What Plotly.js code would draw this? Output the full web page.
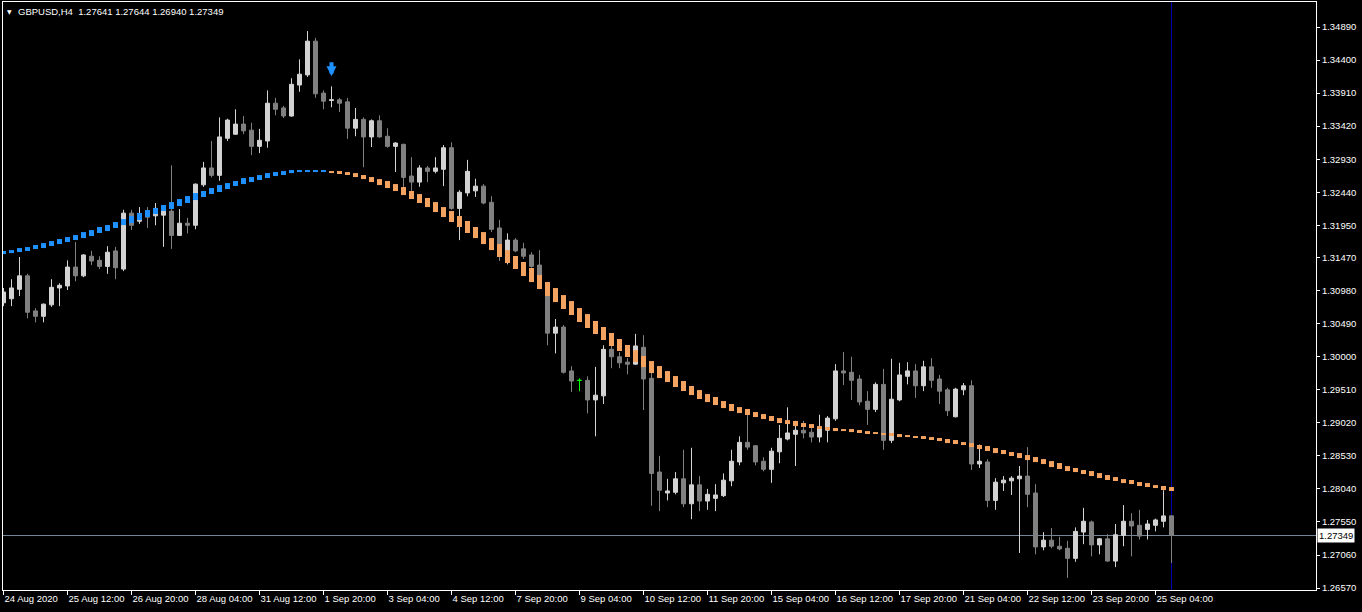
<!DOCTYPE html>
<html><head><meta charset="utf-8">
<script src="https://cdn.plot.ly/plotly-3.0.1.min.js"></script>
<style>html,body{margin:0;padding:0;background:#000;}#chart{width:1362px;height:612px;}</style>
</head><body><div id="chart"></div>
<script>
const symbol = 'GBPUSD';
const timeframe = 'H4';

const openP = [1.3080,1.3086,1.3100,1.3120,1.3068,1.3060,1.3077,1.3102,1.3105,1.3133,
1.3120,1.3149,1.3143,1.3134,1.3157,1.3130,1.3213,1.3201,1.3216,1.3209,
1.3210,1.3216,1.3180,1.3198,1.3195,1.3255,1.3280,1.3269,1.3324,1.3330,
1.3345,1.3336,1.3312,1.3320,1.3376,1.3369,1.3357,1.3403,1.3418,1.3468,
1.3391,1.3380,1.3381,1.3378,1.3339,1.3352,1.3326,1.3350,1.3327,1.3312,
1.3315,1.3268,1.3259,1.3280,1.3275,1.3278,1.3310,1.3220,1.3243,1.3246,
1.3253,1.3229,1.3191,1.3151,1.3173,1.3160,1.3151,1.3136,1.3108,1.3035,
1.3044,1.2979,1.2965,1.2965,1.2936,1.2942,1.3011,1.3000,1.2992,1.2989,
1.3014,1.2968,1.2829,1.2798,1.2799,1.2819,1.2782,1.2810,1.2786,1.2790,
1.2794,1.2816,1.2844,1.2873,1.2868,1.2845,1.2833,1.2859,1.2878,1.2885,
1.2891,1.2888,1.2881,1.2891,1.2908,1.2979,1.2977,1.2967,1.2934,1.2922,
1.2959,1.2876,1.2936,1.2971,1.2979,1.2957,1.2985,1.2967,1.2951,1.2911,
1.2951,1.2957,1.2841,1.2844,1.2787,1.2813,1.2816,1.2819,1.2823,1.2798,
1.2718,1.2728,1.2719,1.2716,1.2701,1.2740,1.2755,1.2721,1.2730,1.2697,
1.2735,1.2756,1.2750,1.2744,1.2750,1.2756,1.27641];

const highP = [1.3102,1.3115,1.3148,1.3123,1.3072,1.3079,1.3115,1.3109,1.3143,1.3170,
1.3152,1.3157,1.3149,1.3164,1.3163,1.3218,1.3218,1.3222,1.3222,1.3228,
1.3225,1.3284,1.3219,1.3206,1.3257,1.3289,1.3320,1.3355,1.3353,1.3367,
1.3357,1.3347,1.3338,1.3395,1.3384,1.3372,1.3413,1.3441,1.3483,1.3473,
1.3395,1.3401,1.3384,1.3384,1.3369,1.3355,1.3352,1.3358,1.3339,1.3318,
1.3316,1.3296,1.3284,1.3283,1.3296,1.3314,1.3318,1.3247,1.3292,1.3264,
1.3256,1.3238,1.3203,1.3183,1.3176,1.3169,1.3155,1.3158,1.3111,1.3056,
1.3047,1.2986,1.2968,1.2971,1.2985,1.3017,1.3016,1.3007,1.2998,1.3034,
1.3032,1.2976,1.2853,1.2819,1.2829,1.2862,1.2865,1.2823,1.2804,1.2811,
1.2827,1.2862,1.2882,1.2914,1.2869,1.2851,1.2865,1.2899,1.2925,1.2905,
1.2905,1.2894,1.2914,1.2912,1.2989,1.3007,1.3000,1.2973,1.2949,1.2962,
1.2982,1.2997,1.2991,1.2992,1.2989,1.2994,1.2998,1.2973,1.2954,1.2954,
1.2961,1.2965,1.2870,1.2848,1.2820,1.2823,1.2823,1.2838,1.2866,1.2811,
1.2740,1.2746,1.2733,1.2727,1.2747,1.2776,1.2757,1.2731,1.2737,1.2752,
1.2780,1.2768,1.2773,1.2758,1.2760,1.2802,1.27644];

const lowP = [1.3075,1.3075,1.3090,1.3057,1.3051,1.3051,1.3074,1.3075,1.3099,1.3112,
1.3118,1.3136,1.3130,1.3123,1.3115,1.3127,1.3188,1.3197,1.3191,1.3195,
1.3163,1.3160,1.3179,1.3183,1.3189,1.3252,1.3266,1.3261,1.3320,1.3329,
1.3330,1.3299,1.3302,1.3310,1.3358,1.3354,1.3356,1.3393,1.3415,1.3384,
1.3367,1.3370,1.3363,1.3323,1.3327,1.3281,1.3311,1.3325,1.3310,1.3274,
1.3252,1.3246,1.3252,1.3259,1.3272,1.3253,1.3218,1.3173,1.3238,1.3237,
1.3226,1.3185,1.3142,1.3137,1.3155,1.3145,1.3132,1.3105,1.3017,1.3005,
1.2975,1.2948,1.2949,1.2916,1.2882,1.2930,1.2983,1.2983,1.2974,1.2988,
1.2921,1.2779,1.2771,1.2787,1.2796,1.2777,1.2759,1.2771,1.2773,1.2771,
1.2792,1.2808,1.2839,1.2862,1.2839,1.2830,1.2813,1.2842,1.2876,1.2838,
1.2879,1.2873,1.2873,1.2873,1.2905,1.2958,1.2936,1.2928,1.2899,1.2918,
1.2862,1.2872,1.2934,1.2959,1.2939,1.2949,1.2954,1.2930,1.2912,1.2910,
1.2943,1.2832,1.2835,1.2777,1.2773,1.2801,1.2795,1.2709,1.2777,1.2707,
1.2713,1.2716,1.2713,1.2672,1.2696,1.2722,1.2704,1.2707,1.2696,1.2688,
1.2719,1.2704,1.2729,1.2729,1.2741,1.2747,1.26940];

const closeP = [1.3096,1.3102,1.3120,1.3066,1.3060,1.3078,1.3103,1.3106,1.3133,1.3120,
1.3151,1.3142,1.3134,1.3155,1.3132,1.3213,1.3195,1.3212,1.3207,1.3220,
1.3216,1.3180,1.3198,1.3195,1.3256,1.3280,1.3269,1.3326,1.3351,1.3345,
1.3335,1.3312,1.3321,1.3376,1.3367,1.3357,1.3404,1.3419,1.3468,1.3390,
1.3379,1.3381,1.3376,1.3339,1.3352,1.3326,1.3350,1.3326,1.3312,1.3317,
1.3266,1.3259,1.3280,1.3275,1.3280,1.3310,1.3220,1.3244,1.3275,1.3253,
1.3228,1.3189,1.3158,1.3173,1.3157,1.3149,1.3134,1.3108,1.3035,1.3044,
1.2977,1.2964,1.2965,1.2936,1.2943,1.3011,1.3000,1.2991,1.2989,1.3016,
1.2967,1.2827,1.2802,1.2801,1.2819,1.2782,1.2810,1.2786,1.2796,1.2795,
1.2817,1.2845,1.2873,1.2866,1.2844,1.2833,1.2860,1.2879,1.2887,1.2891,
1.2887,1.2881,1.2894,1.2909,1.2979,1.2976,1.2965,1.2933,1.2922,1.2959,
1.2876,1.2937,1.2973,1.2979,1.2957,1.2985,1.2965,1.2949,1.2920,1.2952,
1.2957,1.2841,1.2845,1.2787,1.2814,1.2817,1.2820,1.2823,1.2796,1.2718,
1.2728,1.2719,1.2715,1.2701,1.2741,1.2756,1.2721,1.2730,1.2697,1.2736,
1.2756,1.2749,1.2734,1.2752,1.2758,1.2764,1.27349];

const maHigh = [1.31568,1.31582,1.31612,1.31627,1.31657,1.31686,1.31716,1.31746,1.31775,1.31805,
1.31849,1.31879,1.31924,1.31953,1.31998,1.32042,1.32087,1.32131,1.32176,1.32205,
1.32250,1.32294,1.32339,1.32383,1.32428,1.32458,1.32502,1.32546,1.32576,1.32606,
1.32650,1.32665,1.32695,1.32724,1.32739,1.32754,1.32769,1.32769,1.32769,1.32769,
1.32769,1.32754,1.32754,1.32739,1.32724,1.32695,1.32665,1.32635,1.32606,1.32561,
1.32517,1.32458,1.32413,1.32354,1.32294,1.32220,1.32161,1.32087,1.32013,1.31924,
1.31849,1.31760,1.31671,1.31582,1.31494,1.31405,1.31316,1.31212,1.31108,1.31019,
1.30915,1.30826,1.30722,1.30633,1.30530,1.30441,1.30352,1.30263,1.30174,1.30099,
1.30010,1.29936,1.29862,1.29788,1.29714,1.29640,1.29566,1.29506,1.29447,1.29403,
1.29343,1.29299,1.29254,1.29225,1.29180,1.29150,1.29121,1.29091,1.29061,1.29047,
1.29017,1.29002,1.28972,1.28958,1.28943,1.28928,1.28928,1.28913,1.28898,1.28883,
1.28869,1.28869,1.28854,1.28839,1.28824,1.28824,1.28809,1.28795,1.28780,1.28765,
1.28735,1.28720,1.28691,1.28676,1.28646,1.28617,1.28587,1.28572,1.28542,1.28513,
1.28483,1.28453,1.28424,1.28379,1.28350,1.28320,1.28305,1.28275,1.28246,1.28216,
1.28186,1.28172,1.28142,1.28127,1.28097,1.28083,1.28068];

const maLow = [1.31523,1.31538,1.31553,1.31568,1.31597,1.31612,1.31642,1.31671,1.31701,1.31731,
1.31760,1.31790,1.31835,1.31864,1.31909,1.31953,1.31983,1.32027,1.32072,1.32116,
1.32161,1.32191,1.32235,1.32280,1.32324,1.32369,1.32413,1.32443,1.32487,1.32532,
1.32561,1.32591,1.32621,1.32650,1.32680,1.32695,1.32724,1.32739,1.32739,1.32739,
1.32739,1.32724,1.32710,1.32695,1.32665,1.32635,1.32591,1.32546,1.32502,1.32458,
1.32398,1.32339,1.32280,1.32220,1.32146,1.32072,1.31998,1.31924,1.31835,1.31760,
1.31671,1.31582,1.31479,1.31390,1.31301,1.31197,1.31108,1.31004,1.30900,1.30811,
1.30708,1.30619,1.30515,1.30426,1.30337,1.30248,1.30159,1.30085,1.29996,1.29922,
1.29847,1.29758,1.29684,1.29625,1.29551,1.29492,1.29432,1.29373,1.29328,1.29284,
1.29239,1.29195,1.29165,1.29136,1.29106,1.29076,1.29047,1.29017,1.29002,1.28972,
1.28958,1.28943,1.28928,1.28913,1.28898,1.28898,1.28883,1.28869,1.28854,1.28854,
1.28839,1.28824,1.28809,1.28809,1.28795,1.28780,1.28765,1.28750,1.28720,1.28706,
1.28691,1.28661,1.28631,1.28602,1.28572,1.28557,1.28528,1.28498,1.28468,1.28438,
1.28409,1.28364,1.28335,1.28305,1.28290,1.28261,1.28231,1.28201,1.28172,1.28157,
1.28127,1.28112,1.28083,1.28068,1.28053,1.28023,1.28009];

const signalBar = [41];
const signalPrice = [1.3416];

const tickBars = [0,8,16,24,32,40,48,56,64,72,80,88,96,104,112,120,128,136,144];
const tickText = ['24 Aug 2020','25 Aug 12:00','26 Aug 20:00','28 Aug 04:00','31 Aug 12:00','1 Sep 20:00',
'3 Sep 04:00','4 Sep 12:00','7 Sep 20:00','9 Sep 04:00','10 Sep 12:00','11 Sep 20:00','15 Sep 04:00',
'16 Sep 12:00','17 Sep 20:00','21 Sep 04:00','22 Sep 12:00','23 Sep 20:00','25 Sep 04:00'];

const priceTicks = [1.34890,1.34400,1.33910,1.33420,1.32930,1.32440,1.31950,1.31470,1.30980,
1.30490,1.30000,1.29510,1.29020,1.28530,1.28040,1.27550,1.27060,1.26570];

const UP = '#d3d3d3', DOWN = '#808080', DOJI = '#00ff00';
const MA_UP = '#1e90ff', MA_DOWN = '#f4a460';
const FONT = 'Liberation Sans, Arial, sans-serif';

const N = openP.length;

function pick(cond) {
  const o = {x: [], open: [], high: [], low: [], close: []};
  for (let i = 0; i < N; i++) if (cond(i)) {
    o.x.push(i); o.open.push(openP[i]); o.high.push(highP[i]); o.low.push(lowP[i]); o.close.push(closeP[i]);
  }
  return o;
}
const main = pick(i => openP[i] !== closeP[i]);
const doji = pick(i => openP[i] === closeP[i]);

const candleTrace = Object.assign({
  type: 'candlestick', whiskerwidth: 0, hoverinfo: 'skip',
  increasing: {line: {color: UP, width: 1}, fillcolor: UP},
  decreasing: {line: {color: DOWN, width: 1}, fillcolor: DOWN}
}, main);
const dojiTrace = Object.assign({
  type: 'candlestick', whiskerwidth: 0, hoverinfo: 'skip',
  increasing: {line: {color: DOJI, width: 1}, fillcolor: DOJI},
  decreasing: {line: {color: DOJI, width: 1}, fillcolor: DOJI}
}, doji);

const rise = {x: [], y: []}, fall = {x: [], y: []};
for (let i = 0; i < N; i++) {
  const mid = maHigh[i] + maLow[i];
  const prev = i > 0 ? maHigh[i - 1] + maLow[i - 1] : -Infinity;
  const t = mid >= prev - 1e-9 ? rise : fall;
  t.x.push(i, i, null);
  t.y.push(maLow[i], maHigh[i], null);
}
const maRise = {type: 'scatter', mode: 'lines', x: rise.x, y: rise.y, line: {color: MA_UP, width: 5}, hoverinfo: 'skip'};
const maFall = {type: 'scatter', mode: 'lines', x: fall.x, y: fall.y, line: {color: MA_DOWN, width: 5}, hoverinfo: 'skip'};

const last = N - 1;
const headText = symbol + ',' + timeframe + '\u00a0\u00a0' +
  [openP[last], highP[last], lowP[last], closeP[last]].map(v => v.toFixed(5)).join(' ');

const annotations = [
  {xref: 'paper', yref: 'paper', x: 0, y: 1, xanchor: 'left', yanchor: 'middle', xshift: 2, yshift: -9,
   text: '\u25bc', showarrow: false, font: {family: 'DejaVu Sans', size: 6, color: '#fff'}},
  {xref: 'paper', yref: 'paper', x: 0, y: 1, xanchor: 'left', yanchor: 'middle', xshift: 13, yshift: -9,
   text: headText, showarrow: false, font: {family: FONT, size: 9.5, color: '#fff'}},
  {xref: 'paper', yref: 'y', x: 1, y: closeP[last], xanchor: 'left', yanchor: 'middle', xshift: 1,
   text: closeP[last].toFixed(5), showarrow: false, bgcolor: '#ffffff', borderpad: 1,
   font: {family: FONT, size: 9.5, color: '#000'}}
];
signalBar.forEach((b, k) => annotations.push({
  xref: 'x', yref: 'y', x: b, y: signalPrice[k], ax: 0, ay: -15, text: ' ', showarrow: true,
  arrowhead: 2, arrowwidth: 4, arrowsize: 0.5, arrowcolor: MA_UP, standoff: 0,
  borderpad: 0, font: {size: 1, color: MA_UP}
}));

const layout = {
  width: 1362, height: 612,
  paper_bgcolor: '#000', plot_bgcolor: '#000',
  margin: {l: 3, r: 46, t: 2, b: 22, pad: 0},
  showlegend: false, hovermode: false,
  boxgap: 0.5, boxgroupgap: 0,
  font: {family: FONT, size: 9.5, color: '#fff'},
  xaxis: {
    range: [-0.0625, 164.0625], showgrid: false, zeroline: false,
    showline: true, linecolor: '#fff', linewidth: 1, mirror: true,
    ticks: 'outside', ticklen: 4, tickcolor: '#fff', tickwidth: 1,
    tickmode: 'array', tickvals: tickBars, ticktext: tickText, tickangle: 0,
    ticklabelposition: 'outside right',
    tickfont: {family: FONT, size: 9.5, color: '#fff'},
    rangeslider: {visible: false}, fixedrange: true
  },
  yaxis: {
    range: [1.26541, 1.35261], side: 'right', showgrid: false, zeroline: false,
    showline: true, linecolor: '#fff', linewidth: 1, mirror: true,
    ticks: 'outside', ticklen: 3, tickcolor: '#fff', tickwidth: 1,
    tickmode: 'array', tickvals: priceTicks, ticktext: priceTicks.map(v => v.toFixed(5)),
    tickfont: {family: FONT, size: 9.5, color: '#fff'}, fixedrange: true
  },
  shapes: [
    {type: 'line', xref: 'paper', yref: 'y', x0: 0, x1: 1, y0: closeP[last], y1: closeP[last],
     line: {color: '#778899', width: 1}, layer: 'below'},
    {type: 'line', xref: 'x', yref: 'paper', x0: last, x1: last, y0: 0, y1: 1,
     line: {color: '#0000b4', width: 1}, layer: 'below'}
  ],
  annotations: annotations
};

Plotly.newPlot('chart', [candleTrace, dojiTrace, maRise, maFall], layout, {staticPlot: true, displayModeBar: false});
</script>
</body></html>
